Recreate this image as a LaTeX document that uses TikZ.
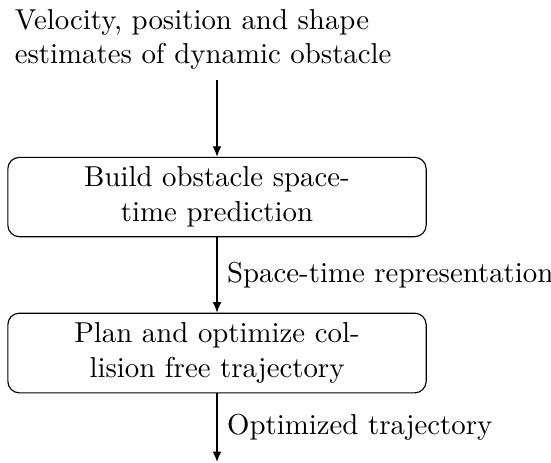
\documentclass[tikz,border=0pt]{standalone}
\usetikzlibrary{arrows.meta}
\begin{document}
\begin{tikzpicture}[x=0.347pt,y=-0.347pt,
  stepbox/.style={draw, rounded corners=4pt, text width=138.5pt, align=center, inner sep=0.333em},
  inputtext/.style={text width=140.3pt, align=left, inner sep=0.333em},
  flow/.style={-{Latex[length=3.6pt,width=3pt]}}]
  \useasboundingbox (0,0) rectangle (551,462);
  % input description
  \node[inputtext, anchor=south] (in) at (217,80)
    {Velocity, position and shape\\estimates of dynamic obstacle};
  % processing stages
  \node[stepbox] (b1) at (217,197) {Build obstacle space-\\time prediction};
  \node[stepbox] (b2) at (217,353) {Plan and optimize col-\\lision free trajectory};
  \coordinate (out) at (217,462);
  % connectors
  \draw[flow] (in) -- (b1);
  \draw[flow] (b1) -- node[right] {Space-time representation} (b2);
  \draw[flow] (b2) -- node[right] {Optimized trajectory} (out);
\end{tikzpicture}
\end{document}
